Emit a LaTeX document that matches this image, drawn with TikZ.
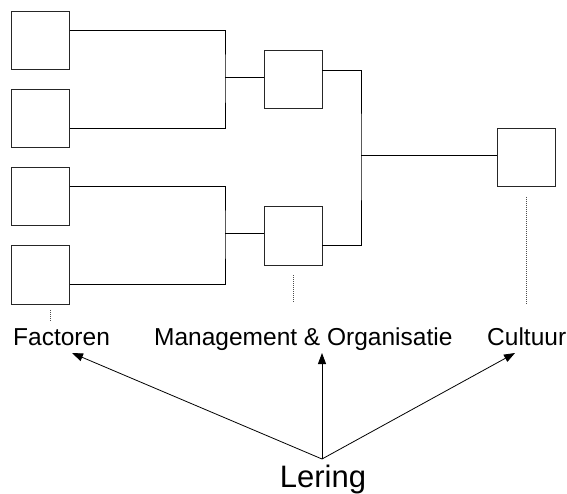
\documentclass[tikz,border=0pt]{standalone}
\usepackage{fontspec}
\setmainfont{Liberation Sans}
\usetikzlibrary{arrows.meta,calc}
\begin{document}
\begin{tikzpicture}[x=1pt,y=1pt,
  box/.style={draw=black!85,line width=1pt,minimum width=58pt,minimum height=58pt,inner sep=0pt,outer sep=0pt},
  wire/.style={draw=black,line width=1pt},
  dots/.style={draw=black!70,line width=0.9pt,dash pattern=on 1pt off 1pt},
  lbl/.style={font=\fontsize{24.5}{28}\selectfont,inner sep=0pt,anchor=base west},
  arr/.style={draw=black,line width=0.8pt,-{Triangle[length=11pt,width=8pt]}}]
\useasboundingbox (0,0) rectangle (567,-494);
% left boxes
\node[box] (f1) at (40.5,-41) {};
\node[box] (f2) at (40.5,-119) {};
\node[box] (f3) at (40.5,-197) {};
\node[box] (f4) at (40.5,-275) {};
% middle boxes
\node[box] (m1) at (293,-80) {};
\node[box] (m2) at (293,-236) {};
% right box
\node[box] (r1) at (526,-158) {};
% bracket coordinates
\coordinate (b1) at (225,-78);
\coordinate (b2) at (225,-234);
\coordinate (b3) at (361,-156);
% upper bracket
\draw[wire] ([yshift=10pt]f1.east) -| (b1) |- ([yshift=-10pt]f2.east);
\draw[wire] (b1) -- (m1.west |- b1);
% lower bracket
\draw[wire] ([yshift=10pt]f3.east) -| (b2) |- ([yshift=-9pt]f4.east);
\draw[wire] (b2) -- (m2.west |- b2);
% right bracket
\draw[wire] ([yshift=9pt]m1.east) -| (b3) |- ([yshift=-10pt]m2.east);
\draw[wire] (b3) -- (r1.west |- b3);
% labels
\node[lbl] (fac) at (13,-345) {Factoren};
\node[lbl] (mo) at (154,-345) {Management \& Organisatie};
\node[lbl] (cul) at (487,-345) {Cultuur};
\node[font=\fontsize{31}{35}\selectfont,inner sep=0pt,anchor=base] (ler) at (323,-487) {Lering};
% dotted leaders
\coordinate (d1a) at (50,-310);
\coordinate (d1b) at (50,-322);
\draw[dots] (d1a) -- (d1b);
\coordinate (d2a) at (293,-275);
\coordinate (d2b) at (293,-303);
\draw[dots] (d2a) -- (d2b);
\coordinate (d3a) at (526,-197);
\coordinate (d3b) at (526,-305);
\draw[dots] (d3a) -- (d3b);
% arrows
\coordinate (src) at (322,-459);
\coordinate (t1) at (72,-353);
\coordinate (t2) at (322,-353);
\coordinate (t3) at (515,-353);
\draw[arr] (src) -- (t1);
\draw[arr] (src) -- (t2);
\draw[arr] (src) -- (t3);
\end{tikzpicture}
\end{document}
